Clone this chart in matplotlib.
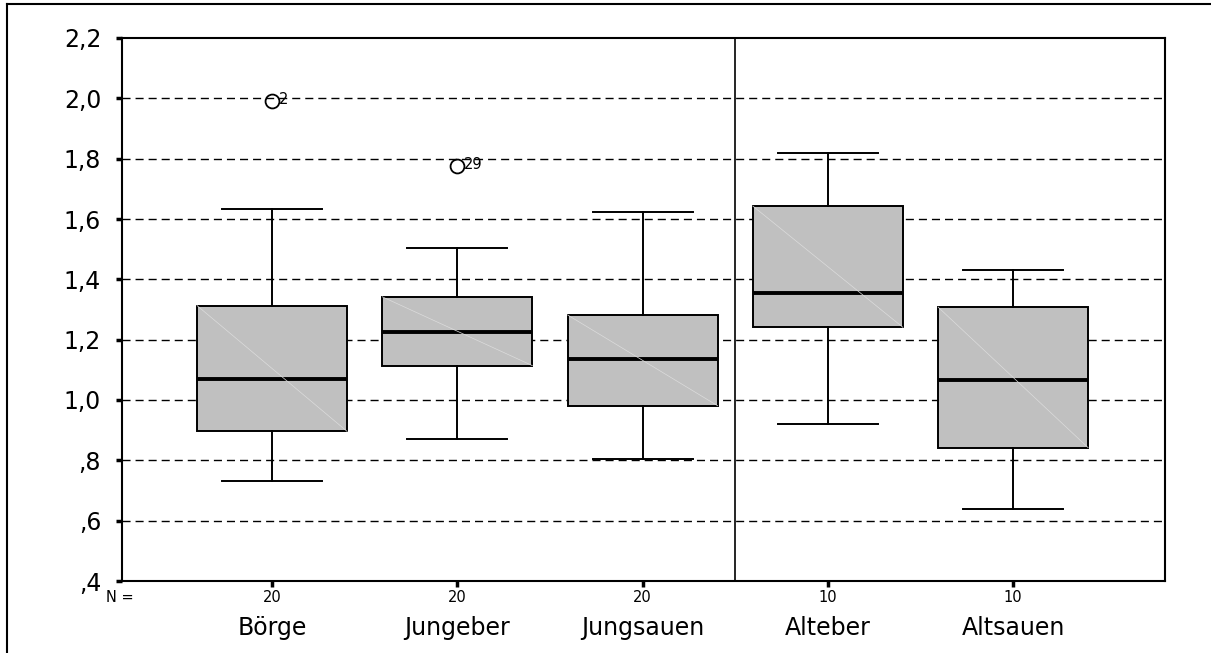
import matplotlib
matplotlib.use("Agg")
import matplotlib.pyplot as plt
from matplotlib.lines import Line2D
from matplotlib.ticker import FixedLocator

plt.rcParams["font.family"] = ["DejaVu Sans"]

# Gruppen und Boxplot-Kennwerte (SPSS-Ausgabe)
gruppen = ["Börge", "Jungeber", "Jungsauen", "Alteber", "Altsauen"]
n_werte = [20, 20, 20, 10, 10]
whisker_unten = [0.733, 0.872, 0.805, 0.919, 0.638]
q1 = [0.896, 1.114, 0.981, 1.241, 0.842]
median = [1.069, 1.225, 1.137, 1.355, 1.065]
q3 = [1.313, 1.342, 1.282, 1.643, 1.308]
whisker_oben = [1.634, 1.505, 1.623, 1.820, 1.432]
ausreisser = [[1.990], [1.775], [], [], []]
ausreisser_nr = [["2"], ["29"], [], [], []]

y_ticks = [0.4, 0.6, 0.8, 1.0, 1.2, 1.4, 1.6, 1.8, 2.0, 2.2]
y_labels = [",4", ",6", ",8", "1,0", "1,2", "1,4", "1,6", "1,8", "2,0", "2,2"]

positionen = list(range(1, len(gruppen) + 1))
breite = 0.81

fig = plt.figure(figsize=(12.11, 6.53), dpi=100)
ax = fig.add_axes([122 / 1211, 1 - 581 / 653, (1165 - 122) / 1211, (581 - 38) / 653])

stats = []
for i, g in enumerate(gruppen):
    stats.append({"label": g, "whislo": whisker_unten[i], "q1": q1[i],
                  "med": median[i], "q3": q3[i], "whishi": whisker_oben[i],
                  "fliers": ausreisser[i]})

ax.bxp(stats, positions=positionen, widths=breite, capwidths=0.54,
       patch_artist=True, showfliers=True,
       boxprops=dict(facecolor="#c0c0c0", edgecolor="black", linewidth=1.4),
       medianprops=dict(color="black", linewidth=2.8),
       whiskerprops=dict(color="black", linewidth=1.4),
       capprops=dict(color="black", linewidth=1.4),
       flierprops=dict(marker="o", markerfacecolor="none", markeredgecolor="black",
                       markersize=10, markeredgewidth=1.3),
       zorder=3)

# feine helle Diagonale in den Boxen
for i, p in enumerate(positionen):
    ax.plot([p - breite / 2, p + breite / 2], [q3[i], q1[i]],
            color="#dcdcdc", linewidth=0.5, zorder=4)

# Fallnummern der Ausreißer
for i, p in enumerate(positionen):
    for wert, nr in zip(ausreisser[i], ausreisser_nr[i]):
        ax.annotate(nr, (p, wert), xytext=(5, 1), textcoords="offset points",
                    fontsize=10.5, va="center", ha="left", zorder=5)

# gestrichelte Gitterlinien
for y in y_ticks[1:-1]:
    ax.axhline(y, color="black", linewidth=1.0, linestyle=(0, (5.8, 3.6)), zorder=1)

# Trennlinie zwischen Jung- und Alttieren
ax.axvline(3.5, color="black", linewidth=1.2, zorder=2)

ax.set_xlim(0.19, 5.82)
ax.set_ylim(0.4, 2.2)
ax.yaxis.set_major_locator(FixedLocator(y_ticks))
ax.set_yticklabels(y_labels, fontsize=17)
ax.set_xticks(positionen)
ax.set_xticklabels([])
ax.tick_params(axis="y", length=4, width=2.5, direction="out", pad=11)
ax.tick_params(axis="x", length=4, width=2.5, direction="out")
for s in ax.spines.values():
    s.set_linewidth(1.5)

# N-Zeile und Gruppennamen unter der Achse
ax.text(-0.002, -0.031, "N =", transform=ax.transAxes, ha="center", va="center",
        fontsize=10.5)
for p, n, g in zip(positionen, n_werte, gruppen):
    ax.text(p, -0.031, str(n), transform=ax.get_xaxis_transform(),
            ha="center", va="center", fontsize=10.5)
    ax.text(p, -0.087, g, transform=ax.get_xaxis_transform(),
            ha="center", va="center", fontsize=17)

# Rahmen um die Grafik
fig.add_artist(Line2D([7 / 1211, 7 / 1211], [0, 1 - 4 / 653], color="black",
                      linewidth=1.5, transform=fig.transFigure))
fig.add_artist(Line2D([7 / 1211, 1], [1 - 4 / 653, 1 - 4 / 653], color="black",
                      linewidth=1.5, transform=fig.transFigure))

fig.savefig("out.png", dpi=100)
